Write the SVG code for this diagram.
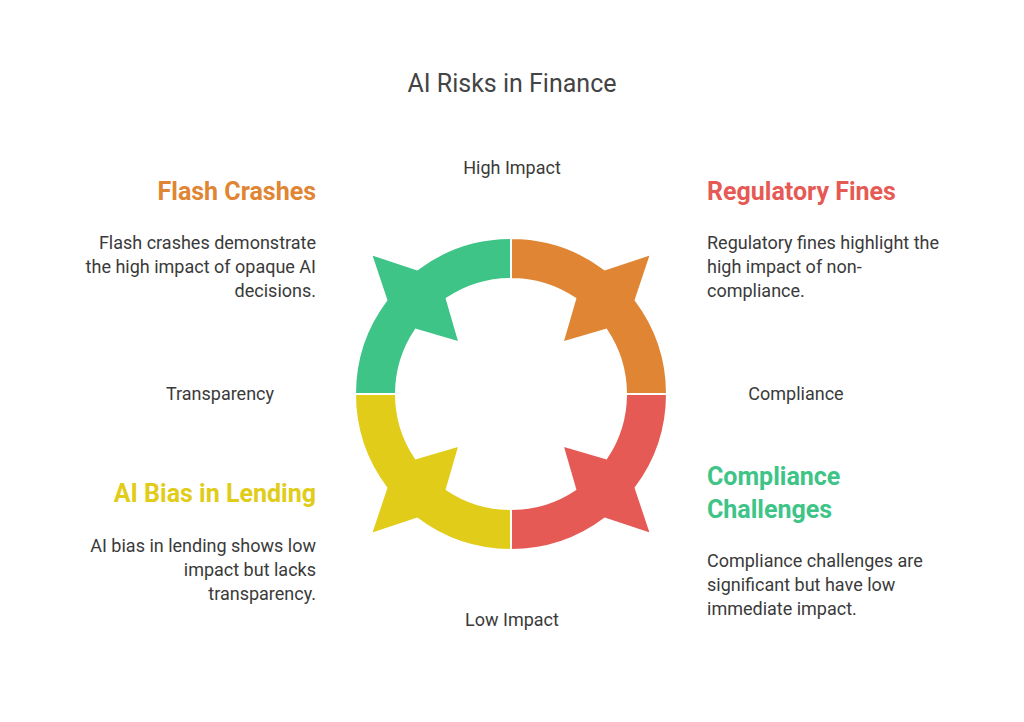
<svg xmlns="http://www.w3.org/2000/svg" width="1024" height="722" viewBox="0 0 1024 722">
<style>
text{font-family:Roboto,"Liberation Sans",sans-serif}
.t{font-size:25px;fill:#444}
.h{font-size:25px;font-weight:bold}
.b{font-size:18px;fill:#3a3a3a}
.a{font-size:18px;fill:#3a3a3a}
.seg{stroke:#fff;stroke-width:2}
</style>
<defs>
<path id="q" d="M355,394 A156,156 0 0 1 386.4,300.1 L371,254 L417.1,269.4 A156,156 0 0 1 511,238 L511,279 A115,115 0 0 0 446.7,298.7 L459.4,342.4 L415.7,329.7 A115,115 0 0 0 396,394 Z"/>
</defs>
<rect width="1024" height="722" fill="#fff"/>
<text class="t" x="512" y="92" text-anchor="middle">AI Risks in Finance</text>
<g id="ring">
<use href="#q" class="seg" fill="#3EC487"/>
<use href="#q" class="seg" fill="#DF8533" transform="rotate(90 511 394)"/>
<use href="#q" class="seg" fill="#E65A55" transform="rotate(180 511 394)"/>
<use href="#q" class="seg" fill="#E0CC19" transform="rotate(270 511 394)"/>
</g>
<g id="axes">
<text class="a" x="512" y="174" text-anchor="middle">High Impact</text>
<text class="a" x="512" y="626" text-anchor="middle">Low Impact</text>
<text class="a" x="220" y="400" text-anchor="middle">Transparency</text>
<text class="a" x="796" y="400" text-anchor="middle">Compliance</text>
</g>
<g id="flash" text-anchor="end">
<text class="h" x="316" y="200" fill="#DF8533">Flash Crashes</text>
<text class="b" x="316" y="249">Flash crashes demonstrate</text>
<text class="b" x="316" y="273">the high impact of opaque AI</text>
<text class="b" x="316" y="297">decisions.</text>
</g>
<g id="fines">
<text class="h" x="707" y="200" fill="#E65A55">Regulatory Fines</text>
<text class="b" x="707" y="249">Regulatory fines highlight the</text>
<text class="b" x="707" y="273">high impact of non-</text>
<text class="b" x="707" y="297">compliance.</text>
</g>
<g id="challenges">
<text class="h" x="707" y="485" fill="#3EC487">Compliance</text>
<text class="h" x="707" y="518" fill="#3EC487">Challenges</text>
<text class="b" x="707" y="567">Compliance challenges are</text>
<text class="b" x="707" y="591">significant but have low</text>
<text class="b" x="707" y="615">immediate impact.</text>
</g>
<g id="bias" text-anchor="end">
<text class="h" x="316" y="502" fill="#E0CC19">AI Bias in Lending</text>
<text class="b" x="316" y="552">AI bias in lending shows low</text>
<text class="b" x="316" y="576">impact but lacks</text>
<text class="b" x="316" y="600">transparency.</text>
</g>
</svg>
